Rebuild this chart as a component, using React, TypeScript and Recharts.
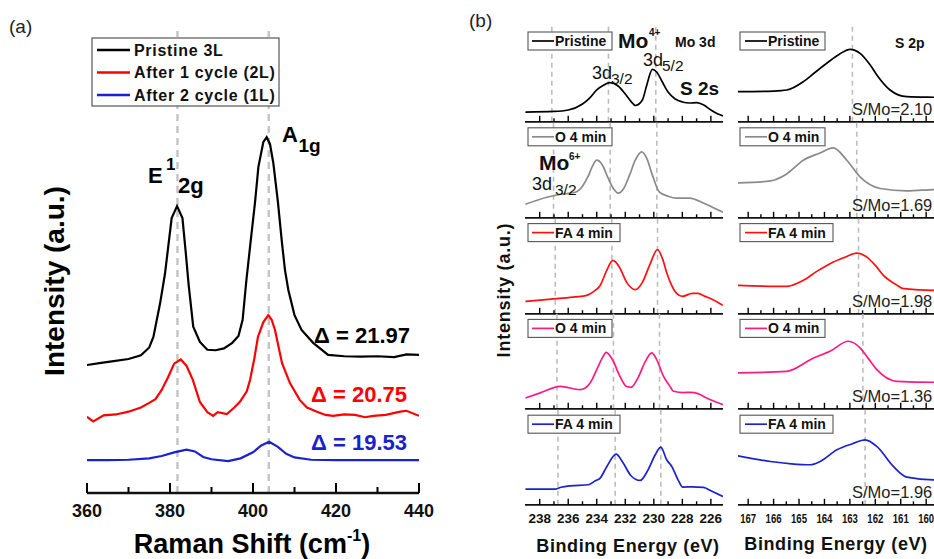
import { LineChart, Line, XAxis, YAxis, ReferenceLine } from 'recharts'

// ---------- (a) Raman ----------
const ramanTicks = [360, 370, 380, 390, 400, 410, 420, 430, 440]
const ramanPeaks = [381.8, 403.8]

const pristineShift = [360, 363, 366, 370, 373, 375, 376, 377.6, 378.8, 380.4, 381.7, 383, 383.8, 384.5, 385.6, 387.2, 389, 391, 393, 395, 396.5, 397.5, 398.4, 399.5, 400.5, 401.3, 402.5, 403.3, 404.1, 404.9, 406, 407, 407.7, 408.5, 410, 411.7, 414.5, 418.1, 422, 426, 430, 434, 437, 440]
const pristineInt = [27.7, 28.1, 28.5, 29, 29.8, 31.5, 33.8, 41, 47.5, 59.5, 62.1, 59.5, 52, 45, 36, 32.7, 31, 30.9, 31.3, 32.5, 34, 37.5, 46, 55, 63, 70.6, 76, 77, 75.5, 71.4, 63, 54, 48.3, 44, 38.5, 35.3, 32.5, 29.9, 29.6, 29.5, 29.6, 29.4, 30, 29.9]

const cycle1Shift = [360, 361.5, 364, 367, 370, 373, 375, 376.5, 378, 379.5, 381, 382.6, 384, 385.5, 387.2, 389, 390.4, 391.5, 393.7, 395.5, 396.9, 398.5, 399.3, 400.3, 401.2, 402.5, 403.7, 404.5, 405.3, 407, 408.9, 411.3, 413, 415.4, 417.5, 419.3, 422, 424.6, 427, 429, 432, 435.5, 437, 440]
const cycle1Int = [16.5, 15.5, 16.8, 17, 17.6, 18.5, 19.5, 20.3, 22.3, 25, 28, 28.9, 27.5, 24.5, 19.7, 17.5, 16.7, 17.5, 17.1, 18.5, 19.8, 22, 24.5, 29, 33.8, 37, 38.5, 37.5, 35.3, 28.1, 23.8, 20.1, 18.5, 17.6, 16.9, 16.7, 17, 16.9, 16.4, 16.7, 16.9, 17.6, 17.8, 16.7]

const cycle2Shift = [360, 365, 370, 375, 378, 381, 384, 386, 388, 390, 394, 397, 400, 402, 403.9, 406, 408, 410, 414, 420, 430, 440]
const cycle2Int = [7.1, 7.1, 7.2, 7.5, 8.0, 8.8, 9.4, 9.0, 7.8, 7.3, 6.9, 7.5, 8.8, 10.3, 11.1, 10, 8.5, 7.7, 7.2, 7.1, 7.1, 7.1]

const ramanSeries = [
  { name: 'Pristine 3L', color: '#000000', xs: pristineShift, ys: pristineInt },
  { name: 'After 1 cycle (2L)', color: '#ff0000', xs: cycle1Shift, ys: cycle1Int },
  { name: 'After 2 cycle (1L)', color: '#1a22cc', xs: cycle2Shift, ys: cycle2Int },
]
const deltaLabels = ['Δ = 21.97', 'Δ = 20.75', 'Δ = 19.53']

// ---------- (b) XPS ----------
const moTicks = [238, 237, 236, 235, 234, 233, 232, 231, 230, 229, 228, 227, 226]
const sTicks = [167, 166.5, 166, 165.5, 165, 164.5, 164, 163.5, 163, 162.5, 162, 161.5, 161, 160.5, 160, 159.5]
const sampleNames = ['Pristine', 'O 4 min', 'FA 4 min', 'O 4 min', 'FA 4 min']
const sampleColors = ['#000000', '#8a8a8a', '#ff1010', '#ff1a80', '#1a22cc']
const sMoRatio = ['S/Mo=2.10', 'S/Mo=1.69', 'S/Mo=1.98', 'S/Mo=1.36', 'S/Mo=1.96']

const moRefs = [
  [237.15, 233.18, 229.86],
  [237.03, 233.06, 229.79],
  [236.91, 232.94, 229.74],
  [236.79, 232.83, 229.6],
  [236.72, 232.71, 229.51],
]
const sRefs = [162.9, 162.73, 162.66, 162.49, 162.4]

const moPristineEV = [239, 237, 236, 235, 234.5, 234, 233.5, 233.1, 232.5, 232, 231.5, 231.3, 230.8, 230.5, 230.1, 229.8, 229.4, 229, 228.5, 228, 227.5, 227, 226.5, 226, 225.5, 225.15]
const moPristine = [10.2, 10.8, 12.3, 18.6, 24.8, 33.2, 38.4, 40.8, 37.4, 29, 19.6, 17, 22.8, 38, 54.8, 52, 41.5, 31, 23.8, 20.7, 19.6, 20.1, 17.5, 12.3, 8.1, 6.1]
const moO4EV = [239, 237.5, 236.5, 235.5, 235, 234.6, 234.3, 234, 233.6, 233.2, 232.8, 232.5, 232.1, 231.7, 231.3, 230.85, 230.5, 230.1, 229.6, 229, 228.4, 227.5, 226.5, 225.9, 225.15]
const moO4 = [14.2, 21.5, 24.6, 26.7, 33, 43.4, 53.9, 60.1, 54.9, 41.3, 29.9, 25.7, 30.9, 44.5, 60.1, 68.8, 62.2, 44.5, 26.7, 22.5, 20.5, 20.5, 15.2, 11, 5.8]
const moFA4EV = [239, 236.8, 235.5, 234.7, 234.2, 233.76, 233.3, 232.87, 232.4, 231.9, 231.3, 230.8, 230.3, 229.74, 229.4, 229.1, 228.85, 228.4, 228, 227.3, 226.9, 226.4, 226, 225.15]
const moFA4 = [12.9, 15.8, 17.6, 19.2, 23.4, 29.6, 45.3, 55.7, 48.4, 32.8, 25.2, 32.8, 50.5, 66.9, 57.8, 43.2, 33.1, 21.3, 18.2, 21.3, 21.3, 18.2, 15.8, 8.8]
const moO4bEV = [239, 237.96, 236.56, 235.16, 234.46, 234, 233.6, 233.34, 232.9, 232.4, 231.9, 231.6, 231.1, 230.6, 230.14, 229.8, 229.32, 228.9, 228.62, 227.9, 227.45, 226.9, 226.52, 225.9, 225.15]
const moO4b = [11.2, 16.6, 23.5, 20, 27, 40.9, 53.4, 59, 51.4, 34.7, 23.2, 22.4, 32.6, 49.3, 58.4, 51.4, 33.9, 24.2, 18.3, 16.9, 17.2, 15.9, 13, 8.6, 4.4]
const moFA4bEV = [239, 236.9, 236.5, 235.86, 234.58, 234.1, 233.76, 233.3, 232.64, 232.2, 231.6, 230.96, 230.4, 229.9, 229.51, 229.1, 228.74, 228.3, 227.97, 227.3, 226.52, 226, 225.15]
const moFA4b = [16.4, 16.4, 18.3, 19.8, 20.9, 25.1, 27.9, 39.7, 52.9, 44.9, 30.3, 25.4, 36.5, 52.2, 60.2, 47, 40, 26.1, 18.5, 18.8, 18.1, 14.6, 8.7]

const sPristineEV = [167.4, 166, 165.48, 164.83, 164.4, 163.91, 163.4, 162.99, 162.6, 162.2, 161.94, 161.42, 160.76, 159.71, 159.2]
const sPristine = [31.4, 32.1, 33.2, 41.9, 50.9, 61.1, 70.8, 75.7, 71.5, 59.3, 48.9, 33.2, 26.2, 25.6, 25.4]
const sO4EV = [167.4, 166.13, 165.5, 164.83, 164.2, 163.65, 163.12, 162.6, 161.81, 160.76, 159.71, 159.2]
const sO4 = [36.4, 38.5, 45.5, 60.1, 67.4, 73, 60.1, 42.7, 30.6, 28.1, 29.5, 29.9]
const sFA4EV = [167.4, 165.48, 164.83, 164.3, 163.78, 163.2, 162.73, 162.33, 162, 161.68, 161.2, 160.89, 159.71, 159.2]
const sFA4 = [29.6, 28.6, 34.9, 44.3, 52.3, 58.9, 63.4, 59.2, 50.5, 40.1, 30.7, 26.2, 24.4, 24.4]
const sO4bEV = [167.4, 165.48, 164.43, 163.78, 163.06, 162.6, 162.3, 161.94, 161.15, 159.71, 159.2]
const sO4b = [37.5, 39.1, 53.1, 60, 70.5, 63.6, 53.4, 40.9, 28.7, 27.7, 27.7]
const sFA4bEV = [167.4, 166.13, 165.3, 164.56, 164.17, 163.51, 162.9, 162.4, 161.94, 161.29, 160.76, 159.71, 159.2]
const sFA4b = [51.1, 45.2, 42.8, 41.8, 45.2, 57.4, 63.7, 67.8, 60.9, 40, 28.9, 26.1, 26.1]

const moCurves = [
  [moPristineEV, moPristine],
  [moO4EV, moO4],
  [moFA4EV, moFA4],
  [moO4bEV, moO4b],
  [moFA4bEV, moFA4b],
]
const sCurves = [
  [sPristineEV, sPristine],
  [sO4EV, sO4],
  [sFA4EV, sFA4],
  [sO4bEV, sO4b],
  [sFA4bEV, sFA4b],
]

const toPts = (xs: number[], ys: number[]) => xs.map((x, i) => ({ x, y: ys[i] }))

const FONT = "Arial, 'Liberation Sans', sans-serif"
const PANEL_TOP = 26
const PANEL_H = 95.8

function makeTick(opts: { major: (v: number) => boolean; len: [number, number]; label: boolean; size: number; dy: number; width: number; squeeze?: number }) {
  return (props: any) => {
    const { x, y, payload } = props
    const v = payload.value
    const big = opts.major(v)
    return (
      <g>
        <line x1={x} x2={x} y1={y} y2={y - (big ? opts.len[0] : opts.len[1])} stroke="#000" strokeWidth={opts.width} />
        {opts.label && big && (
          <text
            x={x}
            y={y + opts.dy}
            textAnchor="middle"
            fontFamily={FONT}
            fontWeight="bold"
            fontSize={opts.size}
            fill="#111"
            {...(opts.squeeze ? { textLength: opts.squeeze, lengthAdjust: 'spacingAndGlyphs' } : {})}
          >
            {v}
          </text>
        )}
      </g>
    )
  }
}

type PanelProps = {
  left: number
  top: number
  width: number
  domain: [number, number]
  ticks: number[]
  major: (v: number) => boolean
  pts: { x: number; y: number }[]
  color: string
  refs: number[]
  labels: boolean
  squeeze?: number
}

function XpsPanel(p: PanelProps) {
  const padX = 16
  const padTop = 2
  const axisH = p.labels ? 26 : 2
  const frame = { stroke: '#111', strokeWidth: 1.8 }
  return (
    <div style={{ position: 'absolute', left: p.left - padX, top: p.top - padTop }}>
      <LineChart
        width={p.width + 2 * padX}
        height={PANEL_H + padTop + axisH}
        margin={{ top: padTop, right: padX, bottom: 0, left: padX }}
      >
        <XAxis
          dataKey="x"
          type="number"
          domain={p.domain}
          reversed
          allowDataOverflow
          ticks={p.ticks}
          interval={0}
          height={axisH}
          tickSize={0}
          tickMargin={0}
          tickLine={false}
          axisLine={frame}
          tick={makeTick({ major: p.major, len: [6, 3.5], label: p.labels, size: 13.5, dy: 18, width: 1.4, squeeze: p.squeeze })}
        />
        <XAxis xAxisId="top" orientation="top" type="number" domain={p.domain} reversed allowDataOverflow height={0} tick={false} tickLine={false} axisLine={frame} />
        <YAxis type="number" domain={[0, 100]} width={0} tick={false} tickLine={false} axisLine={frame} />
        <YAxis yAxisId="r" orientation="right" type="number" domain={[0, 100]} width={0} tick={false} tickLine={false} axisLine={frame} />
        {p.refs.map((r) => (
          <ReferenceLine key={r} x={r} stroke="#bdbdbd" strokeDasharray="5 4" strokeWidth={1.6} />
        ))}
        <Line data={p.pts} dataKey="y" type="monotone" stroke={p.color} strokeWidth={1.7} dot={false} isAnimationActive={false} />
      </LineChart>
    </div>
  )
}

function RamanPanel() {
  const padL = 20
  const padR = 20
  const padTop = 2
  const axisH = 32
  const frame = { stroke: '#111', strokeWidth: 2.4 }
  return (
    <div style={{ position: 'absolute', left: 87 - padL, top: 31 - padTop }}>
      <LineChart width={332 + padL + padR} height={462 + padTop + axisH} margin={{ top: padTop, right: padR, bottom: 0, left: padL }}>
        <XAxis
          dataKey="x"
          type="number"
          domain={[360, 440]}
          allowDataOverflow
          ticks={ramanTicks}
          interval={0}
          height={axisH}
          tickSize={0}
          tickMargin={0}
          tickLine={false}
          axisLine={frame}
          tick={makeTick({ major: (v) => v % 20 === 0, len: [10, 6], label: true, size: 18, dy: 24, width: 2 })}
        />
        <XAxis xAxisId="top" orientation="top" type="number" domain={[360, 440]} height={0} tick={false} tickLine={false} axisLine={frame} />
        <YAxis type="number" domain={[0, 100]} width={0} tick={false} tickLine={false} axisLine={frame} />
        <YAxis yAxisId="r" orientation="right" type="number" domain={[0, 100]} width={0} tick={false} tickLine={false} axisLine={frame} />
        {ramanPeaks.map((r) => (
          <ReferenceLine key={r} x={r} stroke="#c4c4c4" strokeDasharray="7 5" strokeWidth={2.4} />
        ))}
        {ramanSeries.map((s) => (
          <Line key={s.name} data={toPts(s.xs, s.ys)} dataKey="y" name={s.name} type="linear" stroke={s.color} strokeWidth={2.2} dot={false} isAnimationActive={false} />
        ))}
      </LineChart>
    </div>
  )
}

export default function App() {
  const leftCol = { left: 525, width: 198, domain: [225.15, 239.03] as [number, number] }
  const rightCol = { left: 737.7, width: 208.5, domain: [159.2, 167.4] as [number, number] }
  const tops = sampleNames.map((_, i) => PANEL_TOP + i * PANEL_H)

  return (
    <div style={{ position: 'absolute', left: 0, top: 0, width: 934, height: 559, overflow: 'hidden', background: '#fff', fontFamily: FONT }}>
      <RamanPanel />
      {tops.map((t, i) => (
        <XpsPanel
          key={'mo' + i}
          left={leftCol.left}
          top={t}
          width={leftCol.width}
          domain={leftCol.domain}
          ticks={moTicks}
          major={(v) => v % 2 === 0}
          pts={toPts(moCurves[i][0], moCurves[i][1])}
          color={sampleColors[i]}
          refs={moRefs[i]}
          labels={i === 4}
        />
      ))}
      {tops.map((t, i) => (
        <XpsPanel
          key={'s' + i}
          left={rightCol.left}
          top={t}
          width={rightCol.width}
          domain={rightCol.domain}
          ticks={sTicks}
          major={(v) => Number.isInteger(v)}
          pts={toPts(sCurves[i][0], sCurves[i][1])}
          color={sampleColors[i]}
          refs={[sRefs[i]]}
          labels={i === 4}
          squeeze={16}
        />
      ))}

      <svg width={934} height={559} style={{ position: 'absolute', left: 0, top: 0, pointerEvents: 'none' }} fontFamily={FONT}>
        {/* panel (a) */}
        <text x={9} y={33} fontSize={19} fill="#222">(a)</text>
        <rect x={92} y={38} width={187} height={68} fill="#fff" stroke="#555" strokeWidth={1.2} />
        {ramanSeries.map((s, i) => (
          <g key={s.name}>
            <line x1={97} x2={130} y1={50 + i * 22.5} y2={50 + i * 22.5} stroke={s.color} strokeWidth={2.4} />
            <text x={134} y={55.5 + i * 22.5} fontSize={16} fontWeight="bold" letterSpacing={0.7} fill="#111">{s.name}</text>
          </g>
        ))}
        <text x={148} y={183} fontSize={22} fontWeight="bold">E</text>
        <text x={166} y={170} fontSize={17} fontWeight="bold">1</text>
        <text x={178} y={193} fontSize={22} fontWeight="bold">2g</text>
        <text x={282} y={142} fontSize={22} fontWeight="bold">A</text>
        <text x={298.5} y={152} fontSize={19} fontWeight="bold">1g</text>
        <text x={410} y={343} fontSize={22} fontWeight="bold" textAnchor="end" fill="#000">{deltaLabels[0]}</text>
        <text x={407} y={402} fontSize={22} fontWeight="bold" textAnchor="end" fill="#ff0000">{deltaLabels[1]}</text>
        <text x={407} y={449.5} fontSize={22} fontWeight="bold" textAnchor="end" fill="#1a22cc">{deltaLabels[2]}</text>
        <text x={252} y={553} fontSize={27} fontWeight="bold" textAnchor="middle">
          Raman Shift (cm<tspan fontSize={16} dy={-12}>-1</tspan><tspan dy={12}>)</tspan>
        </text>
        <text transform="translate(64,281) rotate(-90)" fontSize={28} fontWeight="bold" textAnchor="middle">Intensity (a.u.)</text>

        {/* panel (b) */}
        <text x={469} y={27} fontSize={19} fill="#222">(b)</text>
        <text transform="translate(510,290) rotate(-90)" fontSize={18} fontWeight="bold" letterSpacing={0.8} textAnchor="middle" fill="#111">Intensity (a.u.)</text>
        <text x={628} y={552} fontSize={18} fontWeight="bold" letterSpacing={0.6} textAnchor="middle" fill="#111">Binding Energy (eV)</text>
        <text x={836} y={550} fontSize={18} fontWeight="bold" letterSpacing={0.6} textAnchor="middle" fill="#111">Binding Energy (eV)</text>

        {tops.map((t, i) => {
          const wL = sampleNames[i].startsWith('FA') ? 92 : 84
          const wR = sampleNames[i].startsWith('FA') ? 93 : 85
          return (
            <g key={'leg' + i}>
              <rect x={528} y={t + 6} width={wL} height={18} fill="#fff" stroke="#555" strokeWidth={1.1} />
              <line x1={532} x2={554} y1={t + 15} y2={t + 15} stroke={sampleColors[i]} strokeWidth={1.7} />
              <text x={555} y={t + 20} fontSize={14} fontWeight="bold" fill="#111">{sampleNames[i]}</text>
              <rect x={740} y={t + 6} width={wR} height={18} fill="#fff" stroke="#555" strokeWidth={1.1} />
              <line x1={745} x2={767} y1={t + 15} y2={t + 15} stroke={sampleColors[i]} strokeWidth={1.7} />
              <text x={768} y={t + 20} fontSize={14} fontWeight="bold" fill="#111">{sampleNames[i]}</text>
              <text x={852} y={t + 89} fontSize={16.5} fill="#222">{sMoRatio[i]}</text>
            </g>
          )
        })}

        <text x={618} y={48} fontSize={21} fontWeight="bold" fill="#111">Mo</text>
        <text x={649} y={36} fontSize={10} fontWeight="bold" fill="#111">4+</text>
        <text x={675} y={47} fontSize={14} fontWeight="bold" fill="#111">Mo 3d</text>
        <text x={592} y={79} fontSize={18} fill="#111">3d</text>
        <text x={611} y={84} fontSize={15.5} fill="#111">3/2</text>
        <text x={643} y={66} fontSize={18} fill="#111">3d</text>
        <text x={662} y={71} fontSize={15.5} fill="#111">5/2</text>
        <text x={680} y={95} fontSize={19} fontWeight="bold" fill="#111">S 2s</text>
        <text x={539} y={170} fontSize={21} fontWeight="bold" fill="#111">Mo</text>
        <text x={569} y={160} fontSize={10} fontWeight="bold" fill="#111">6+</text>
        <text x={532} y={190} fontSize={18} fill="#111">3d</text>
        <text x={555} y={195} fontSize={15.5} fill="#111">3/2</text>
        <text x={895} y={48} fontSize={14} fontWeight="bold" fill="#111">S 2p</text>
      </svg>
    </div>
  )
}
